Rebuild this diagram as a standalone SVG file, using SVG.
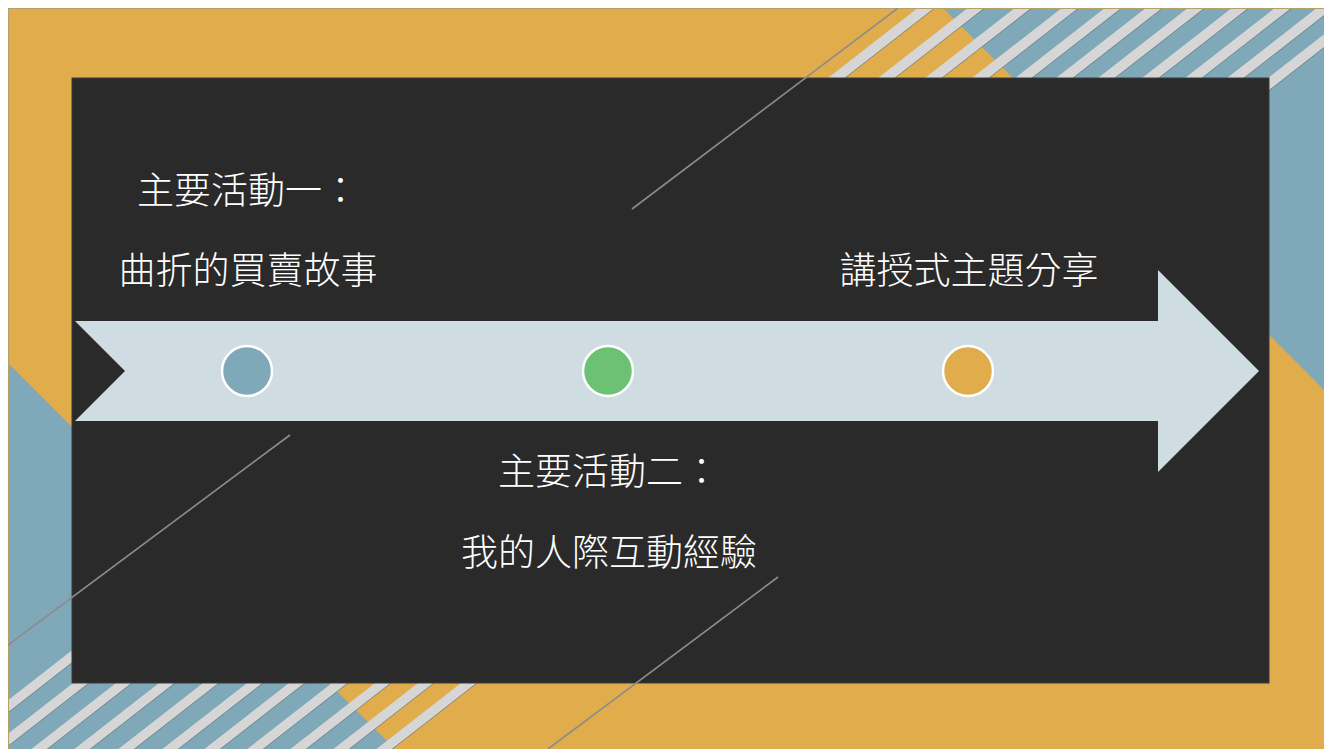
<svg xmlns="http://www.w3.org/2000/svg" xmlns:xlink="http://www.w3.org/1999/xlink" width="1324" height="749" viewBox="0 0 1324 749">
<style>
.lbl{font-family:"Noto Sans CJK TC","Noto Sans CJK SC",sans-serif;font-size:37px;font-weight:300;fill:#ffffff;text-anchor:middle}
.stripe{fill:#d6d6d6}
.edge{stroke:#4f6167;stroke-width:1;stroke-opacity:0.6;fill:none}
.thin{stroke:#8c8c8c;stroke-width:1.6;fill:none}
.dot{stroke:#ffffff;stroke-width:2.5}
</style>
<defs>
<clipPath id="slide"><rect x="8" y="8" width="1316" height="741"/></clipPath>
<g id="stT">
<polygon class="stripe" points="-28.2,100 100,0 117,0 -11.2,100"/>
<line class="edge" x1="-11.2" y1="100" x2="117" y2="0"/>
</g>
<g id="stB">
<polygon class="stripe" points="-98.7,760 80.8,620 96.8,620 -82.7,760"/>
<line class="edge" x1="-82.7" y1="760" x2="96.8" y2="620"/>
</g>
</defs>
<rect x="0" y="0" width="1324" height="749" fill="#ffffff"/>
<g id="background" clip-path="url(#slide)">
<rect x="8" y="8" width="1316" height="741" fill="#e1ad4c"/>
<polygon points="943,8 1324,8 1324,390" fill="#7fa8b8"/>
<polygon points="8,363 8,749 395,749" fill="#7fa8b8"/>
<g id="stripes-top">
<use xlink:href="#stT" x="828"/>
<use xlink:href="#stT" x="878"/>
<use xlink:href="#stT" x="925"/>
<use xlink:href="#stT" x="972"/>
<use xlink:href="#stT" x="1015"/>
<use xlink:href="#stT" x="1056"/>
<use xlink:href="#stT" x="1098"/>
<use xlink:href="#stT" x="1142"/>
<use xlink:href="#stT" x="1185"/>
<use xlink:href="#stT" x="1227"/>
<use xlink:href="#stT" x="1268"/>
</g>
<g id="stripes-bottom">
<use xlink:href="#stB" x="30"/>
<use xlink:href="#stB" x="73"/>
<use xlink:href="#stB" x="116"/>
<use xlink:href="#stB" x="159"/>
<use xlink:href="#stB" x="203"/>
<use xlink:href="#stB" x="247"/>
<use xlink:href="#stB" x="289"/>
<use xlink:href="#stB" x="332"/>
<use xlink:href="#stB" x="375"/>
<use xlink:href="#stB" x="418"/>
<use xlink:href="#stB" x="461"/>
</g>
<rect x="8.5" y="8.5" width="1320" height="745" fill="none" stroke="#b5a06a" stroke-width="1"/>
</g>
<rect id="panel" x="72" y="78" width="1197" height="605" fill="#2a2a2a" stroke="#3a3a3a" stroke-width="1"/>
<g id="accent-lines" clip-path="url(#slide)">
<line class="thin" x1="632" y1="209" x2="898" y2="8"/>
<line class="thin" x1="8" y1="645" x2="290" y2="435"/>
<line class="thin" x1="548" y1="749" x2="778" y2="577"/>
</g>
<g id="connectors">
<polygon id="timeline-arrow" points="75,321 1158,321 1158,270 1259,371 1158,472 1158,421 75,421 125,371" fill="#cfdde3"/>
</g>
<g id="node-activity1">
<circle class="dot" cx="247" cy="371" r="25" fill="#7fa8b8"/>
<text class="lbl" x="248" y="204">主要活動一：</text>
<text class="lbl" x="248" y="284">曲折的買賣故事</text>
</g>
<g id="node-activity2">
<circle class="dot" cx="608" cy="371" r="25" fill="#6dc174"/>
<text class="lbl" x="609" y="485">主要活動二：</text>
<text class="lbl" x="609" y="566">我的人際互動經驗</text>
</g>
<g id="node-lecture">
<circle class="dot" cx="968" cy="371" r="25" fill="#e1ad4c"/>
<text class="lbl" x="969" y="284">講授式主題分享</text>
</g>
</svg>
